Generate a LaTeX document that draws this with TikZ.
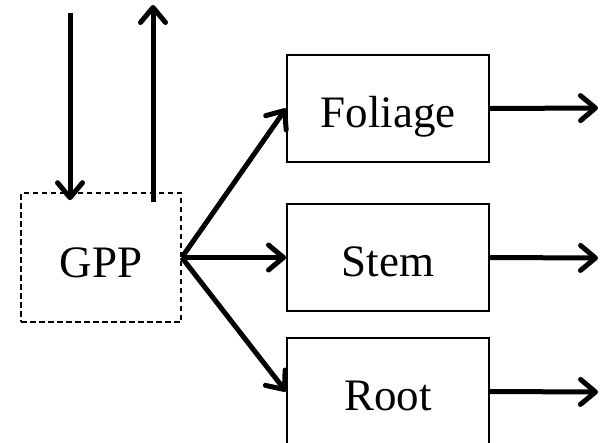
\documentclass[tikz,border=0pt]{standalone}
\usepackage{fontspec}
\setmainfont{Liberation Serif}
\usetikzlibrary{arrows.meta}
\begin{document}
\begin{tikzpicture}[x=1pt,y=-1pt,
  flow/.style={line width=5pt,-{Straight Barb[length=15pt,width=25pt,line cap=round,line join=round]}},
  pool/.style={draw,line width=2pt,minimum width=202pt,minimum height=107pt,inner sep=0pt,text height=38pt,text depth=0pt,font=\fontsize{45}{50}\selectfont},
  gppbox/.style={draw,line width=1.6pt,dash pattern=on 5.5pt off 3.5pt,minimum width=160pt,minimum height=129pt,inner sep=0pt,text height=40pt,text depth=0pt,font=\fontsize{45}{50}\selectfont}]
\useasboundingbox (0,0) rectangle (602,442);
\node[gppbox] (gpp) at (101,257.5) {GPP};
\node[pool] (fol) at (388,108.5) {Foliage};
\node[pool] (stem) at (388,257.5) {Stem};
\node[pool] (root) at (388,391.5) {Root};
\coordinate (inTop) at (70,13);
\coordinate (outTop) at (153,5);
\coordinate (folOut) at (598,108);
\coordinate (stemOut) at (598,258);
\coordinate (rootOut) at (598,392);
\draw[flow] (inTop) -- ([yshift=-8pt]inTop |- gpp.north);
\draw[flow] ([yshift=-10pt]outTop |- gpp.north) -- (outTop);
\draw[flow] (gpp.east) -- (fol.west);
\draw[flow] (gpp.east) -- (stem.west);
\draw[flow] (gpp.east) -- (root.west);
\draw[flow] (fol.east) -- (folOut);
\draw[flow] (stem.east) -- (stemOut);
\draw[flow] (root.east) -- (rootOut);
\end{tikzpicture}
\end{document}
